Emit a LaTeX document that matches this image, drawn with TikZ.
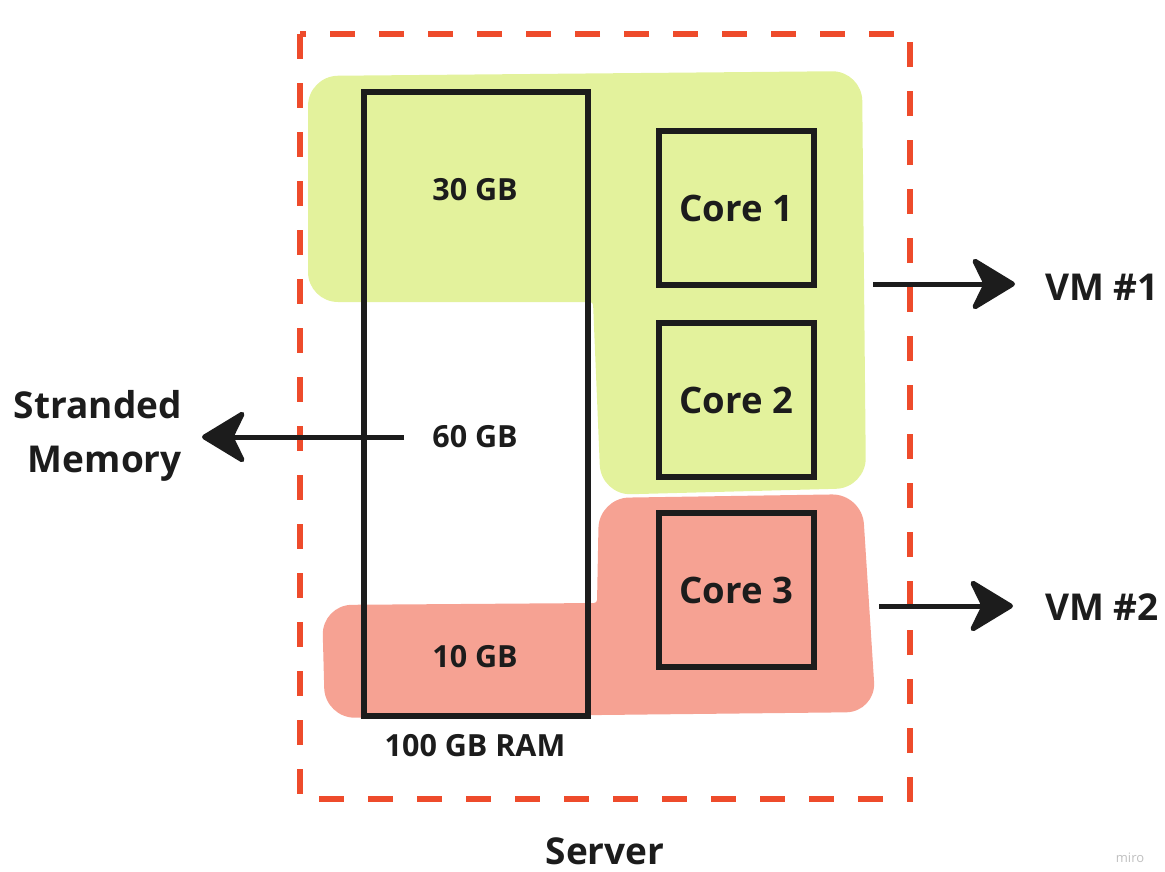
\documentclass[tikz,border=0pt]{standalone}
\usepackage{fontspec}
\setmainfont{Open Sans}
\usetikzlibrary{arrows.meta}
\definecolor{dashred}{HTML}{EE4B2B}
\definecolor{vmgreen}{HTML}{E3F29C}
\definecolor{vmred}{HTML}{F6A293}
\definecolor{ink}{HTML}{1C1C1C}
\tikzstyle{serverbox} = [draw=dashred, line width=6pt, dash pattern=on 25pt off 24pt]
\tikzstyle{membox} = [rectangle, draw=ink, line width=6pt, minimum width=224pt, minimum height=624pt, inner sep=0pt]
\tikzstyle{corebox} = [rectangle, draw=ink, line width=6pt, minimum width=155pt, minimum height=154pt, text=ink, font=\fontsize{36.5}{40}\selectfont\bfseries]
\tikzstyle{memtext} = [text=ink, inner sep=0pt, font=\fontsize{30.5}{34}\selectfont\bfseries]
\tikzstyle{bigtext} = [text=ink, inner sep=0pt, font=\fontsize{37}{54}\selectfont\bfseries]
\tikzstyle{arrow} = [draw=ink, line width=5pt, -{Stealth[length=48pt, width=58pt, inset=14pt, round]}]

\begin{document}
\begin{tikzpicture}[x=1pt, y=-1pt]
			\useasboundingbox (0,0) rectangle (1165,871);
			% highlights
			\fill[vmgreen, rounded corners=30pt] (308,76) -- (862,71) -- (866,488) -- (601,495) [rounded corners=3pt] -- (593,302) [rounded corners=30pt] -- (308,302) -- cycle;
			\fill[vmred, rounded corners=30pt] (599,498) -- (862,494) -- (876,712) -- (325,718) -- (322,605) [rounded corners=3pt] -- (597,603) [rounded corners=30pt] -- cycle;
			% server
			\draw[serverbox] (300,34) rectangle (910,799);
			\node[bigtext] (server) at (605,851) {Server};
			% memory
			\node[membox] (ram) at (476,403.5) {};
			\node[memtext] (gb30) at (475,190) {30 GB};
			\node[memtext] (gb60) at (475,437) {60 GB};
			\node[memtext] (gb10) at (475,657) {10 GB};
			\node[memtext] (ramsize) at (475,746) {100 GB RAM};
			% cores
			\node[corebox] (core1) at (736.5,208) {Core 1};
			\node[corebox] (core2) at (736.5,400) {Core 2};
			\node[corebox] (core3) at (736.5,590) {Core 3};
			% outside
			\node[bigtext, anchor=east, align=right] (stranded) at (182,436) {Stranded\\Memory};
			\node[bigtext, anchor=west] (vm1) at (1045,287) {VM \#1};
			\node[bigtext, anchor=west] (vm2) at (1045,607) {VM \#2};
			\coordinate (vm1out) at (873,284);
			\coordinate (vm2out) at (879,606);
			
			\draw [arrow, shorten <=28pt, shorten >=20pt] (gb60.west) -- (stranded.east |- gb60.west);
			\draw [arrow, shorten >=30pt] (vm1out) -- (vm1.west |- vm1out);
			\draw [arrow, shorten >=32pt] (vm2out) -- (vm2.west |- vm2out);
			
			\node[text=black!25, font=\fontsize{13}{15}\selectfont] (miro) at (1130,858) {miro};
		\end{tikzpicture}
\end{document}
